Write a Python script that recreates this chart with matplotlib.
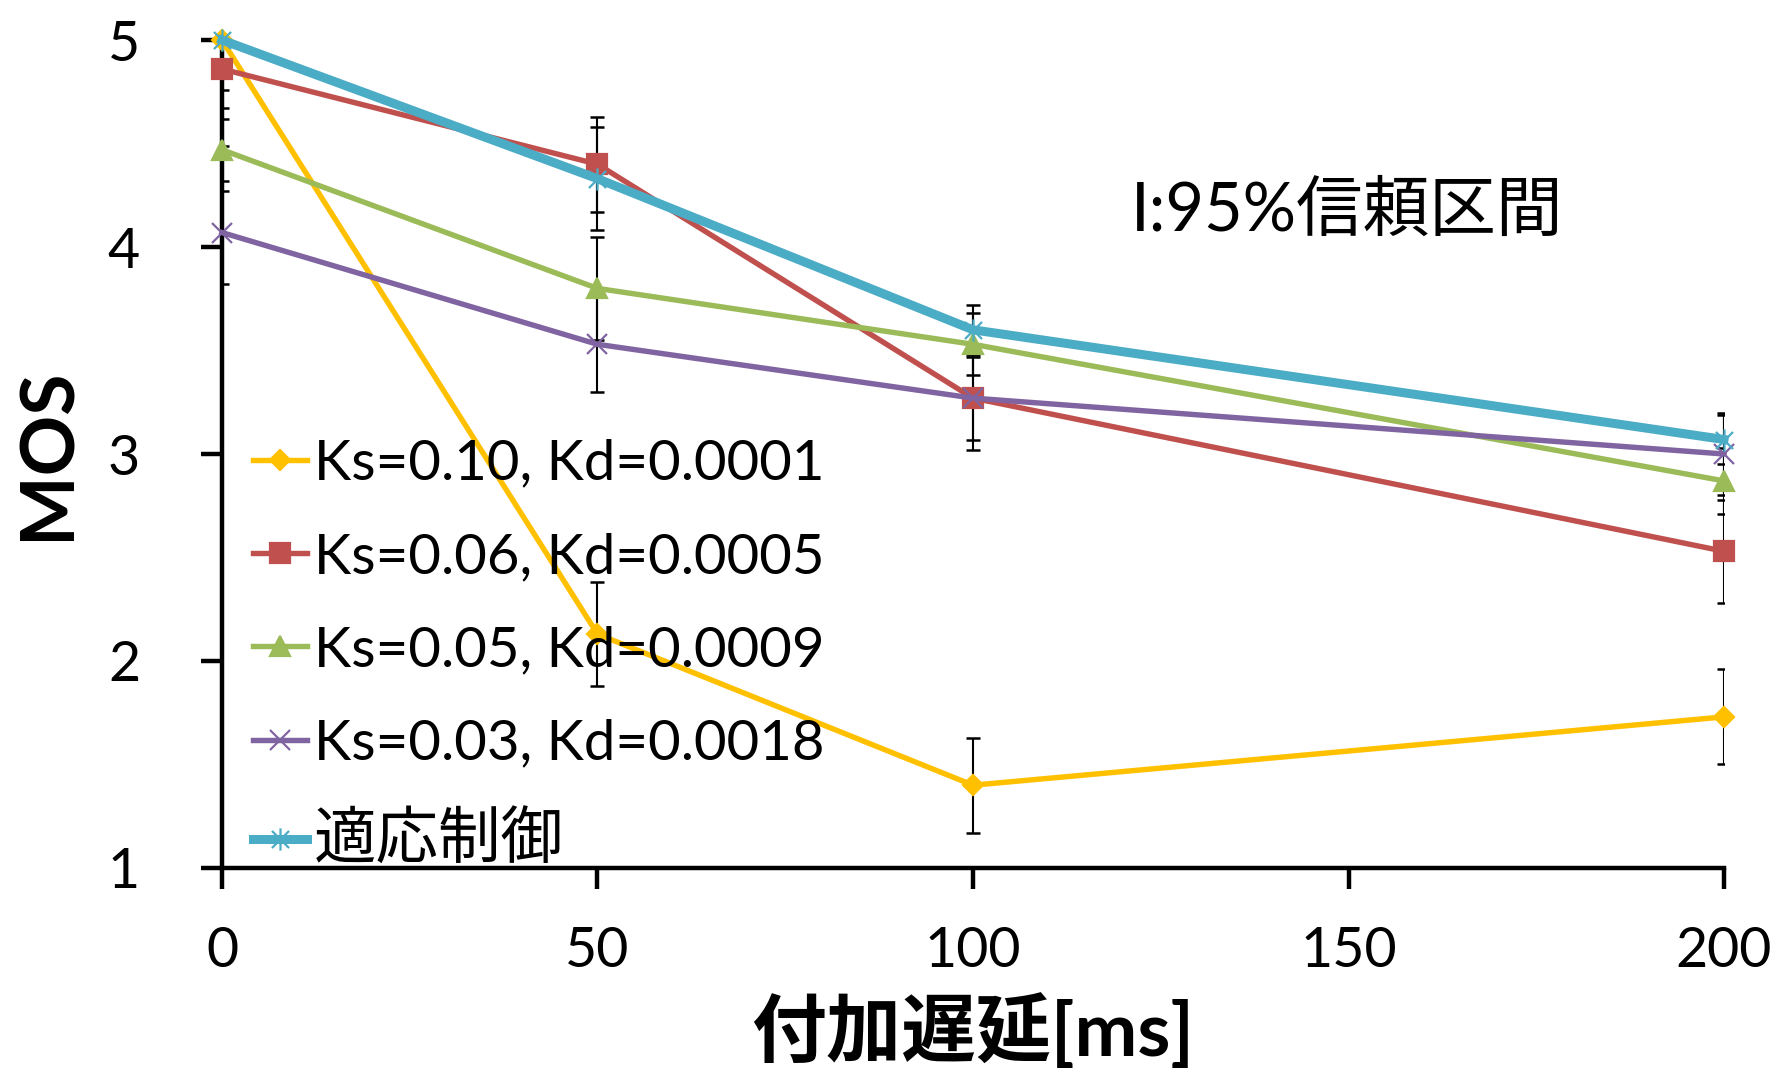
import matplotlib
matplotlib.use("Agg")
import matplotlib.pyplot as plt
from matplotlib.path import Path

plt.rcParams["font.family"] = ["Lato", "Noto Sans CJK JP", "DejaVu Sans"]

# added delay [ms]
delay = [0, 50, 100, 200]

labels = [
    "Ks=0.10, Kd=0.0001",
    "Ks=0.06, Kd=0.0005",
    "Ks=0.05, Kd=0.0009",
    "Ks=0.03, Kd=0.0018",
    "適応制御",
]

mos_ks010 = [5.00, 2.13, 1.40, 1.73]
mos_ks006 = [4.86, 4.40, 3.27, 2.53]
mos_ks005 = [4.47, 3.80, 3.53, 2.87]
mos_ks003 = [4.07, 3.53, 3.27, 3.00]
mos_adapt = [5.00, 4.33, 3.60, 3.07]

# half-width of the 95% confidence interval
ci_ks010 = [0.24, 0.25, 0.23, 0.23]
ci_ks006 = [0.24, 0.23, 0.25, 0.25]
ci_ks005 = [0.20, 0.25, 0.15, 0.16]
ci_ks003 = [0.25, 0.23, 0.20, 0.20]
ci_adapt = [0.51, 0.25, 0.12, 0.12]

# Excel-style asterisk: an x with a vertical stroke through it
asterisk = Path(
    [(-1, -1), (1, 1), (-1, 1), (1, -1), (0, -1.3), (0, 1.3)],
    [Path.MOVETO, Path.LINETO, Path.MOVETO, Path.LINETO, Path.MOVETO, Path.LINETO],
)

series = [
    (mos_ks010, ci_ks010, "#FFC000", "D", 10, 3.9),
    (mos_ks006, ci_ks006, "#C0504D", "s", 14, 3.9),
    (mos_ks005, ci_ks005, "#9BBB59", "^", 14, 3.9),
    (mos_ks003, ci_ks003, "#8064A2", "x", 14, 3.9),
    (mos_adapt, ci_adapt, "#4BACC6", asterisk, 16, 6.5),
]

fig = plt.figure(figsize=(17.77, 10.70), dpi=100)
ax = fig.add_axes([0.1249, 0.1888, 0.8453, 0.7738])

for i, (vals, ci, color, marker, ms, lw) in enumerate(series):
    ax.errorbar(delay, vals, yerr=ci, fmt="none", ecolor="black",
                elinewidth=1.5, capsize=5, capthick=1.8, zorder=2 + i * 0.1)
    ax.plot(delay, vals, color=color, linewidth=lw, marker=marker,
            markersize=ms, markerfacecolor=color, markeredgecolor=color,
            markeredgewidth=1.6, label=labels[i], clip_on=False,
            zorder=3 + i * 0.1)

ax.set_xlim(0, 200)
ax.set_ylim(1, 5)
ax.set_xticks([0, 50, 100, 150, 200])
ax.set_yticks([1, 2, 3, 4, 5])

for side in ["top", "right"]:
    ax.spines[side].set_visible(False)
for side in ["left", "bottom"]:
    ax.spines[side].set_linewidth(3.2)
    ax.spines[side].set_color("black")

ax.tick_params(axis="both", direction="out", length=15, width=3.2,
               labelsize=40, colors="black")
ax.tick_params(axis="x", pad=27)
ax.tick_params(axis="y", pad=44)

ax.set_xlabel("付加遅延[ms]", fontsize=54, fontweight="bold", labelpad=11)
ax.set_ylabel("MOS", fontsize=54, fontweight="bold", labelpad=18)

ax.text(0.605, 0.792, "I:95%信頼区間", transform=ax.transAxes,
        fontsize=48, ha="left", va="center")

leg = ax.legend(loc="upper left", bbox_to_anchor=(0.1426, 0.590),
                bbox_transform=fig.transFigure, frameon=False, fontsize=40.5,
                handlelength=0.95, handletextpad=0.12, labelspacing=0.75,
                borderaxespad=0, borderpad=0)
# the Japanese entry reads small next to the Latin ones at the same size
leg.get_texts()[4].set_fontsize(45)

fig.savefig("out.png", dpi=100, facecolor="white")
